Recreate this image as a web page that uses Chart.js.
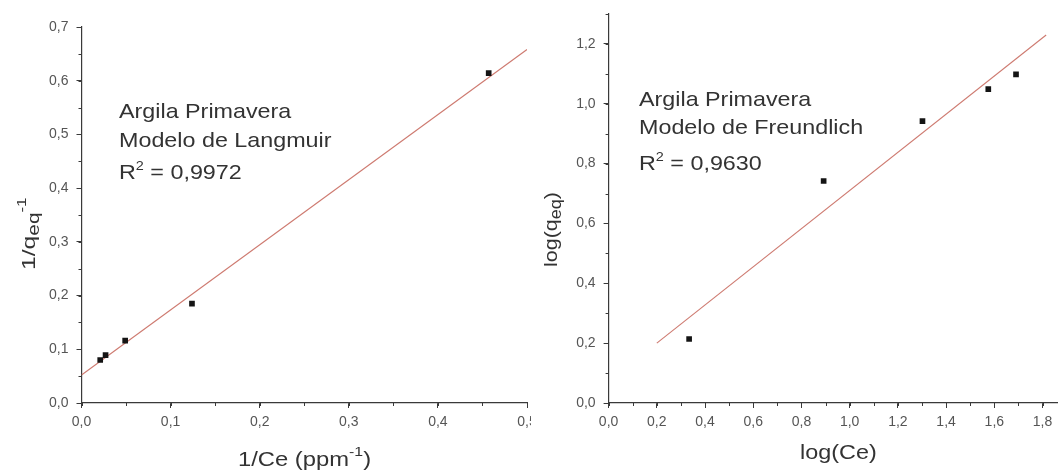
<!DOCTYPE html>
<html>
<head>
<meta charset="utf-8">
<script src="https://cdn.jsdelivr.net/npm/chart.js@4/dist/chart.umd.min.js"></script>
<style>
  html, body { margin: 0; padding: 0; background: #fff; }
  body { width: 1061px; height: 474px; position: relative; overflow: hidden;
         font-family: "Liberation Sans", Arial, sans-serif; color: #333; }
  .box { position: absolute; top: 0; height: 474px; }
  .txt { position: absolute; white-space: nowrap; line-height: 1; transform-origin: 0 0; color: #333; }
  .note { font-size: 21px; transform: scaleX(1.11); }
  .sup { position: relative; font-size: 13px; top: -9px; }
  .sub { position: relative; font-size: 16px; top: 4px; }
  .sup2 { position: relative; font-size: 13px; top: -10px; }
</style>
</head>
<body>
<div class="box" style="left:0;width:531px"><canvas id="langChart"></canvas></div>
<div class="box" style="left:531px;width:530px"><canvas id="freuChart"></canvas></div>

<!-- annotations -->
<div class="txt note" style="left:119px;top:100px">Argila Primavera</div>
<div class="txt note" style="left:119px;top:129px">Modelo de Langmuir</div>
<div class="txt note" style="left:119px;top:161px">R<span class="sup">2</span> = 0,9972</div>

<div class="txt note" style="left:639px;top:88px">Argila Primavera</div>
<div class="txt note" style="left:639px;top:116px">Modelo de Freundlich</div>
<div class="txt note" style="left:639px;top:152px">R<span class="sup">2</span> = 0,9630</div>

<!-- axis titles -->
<div class="txt" style="left:238px;top:450px;font-size:19.5px;transform:scaleX(1.22)">1/Ce (ppm<span class="sup2">-1</span>)</div>
<div class="txt" style="left:800px;top:443px;font-size:19.5px;transform:scaleX(1.2)">log(Ce)</div>
<div class="txt" style="left:19px;top:270px;font-size:19px;transform:rotate(-90deg) scaleX(1.3)">1/q<span class="sub">eq</span><span class="sup">-1</span></div>
<div class="txt" style="left:541px;top:267px;font-size:19px;transform:rotate(-90deg) scaleX(1.13)">log(q<span class="sub">eq</span>)</div>

<script>
// Langmuir (left)
const langX = [0.021, 0.027, 0.049, 0.124, 0.457];
const langY = [0.080, 0.089, 0.116, 0.185, 0.614];
const langFitX = [0, 0.5];
const langFitY = [0.052, 0.658];
const langXTicks = [0, 0.1, 0.2, 0.3, 0.4, 0.5];
const langYTicks = [0, 0.1, 0.2, 0.3, 0.4, 0.5, 0.6, 0.7];

// Freundlich (right)
const freuX = [0.334, 0.892, 1.302, 1.575, 1.690];
const freuY = [0.214, 0.742, 0.942, 1.049, 1.098];
const freuFitX = [0.2, 1.815];
const freuFitY = [0.200, 1.230];
const freuXTicks = [0, 0.2, 0.4, 0.6, 0.8, 1.0, 1.2, 1.4, 1.6, 1.8];
const freuYTicks = [0, 0.2, 0.4, 0.6, 0.8, 1.0, 1.2];

const AXIS = '#3a3a3a';
const FIT = 'rgb(206,122,112)';
const fmt = v => Number(v).toFixed(1).replace('.', ',');
const pts = (xs, ys) => xs.map((x, i) => ({ x, y: ys[i] }));

// small outward minor ticks between the labelled ones
const minorTicks = {
  id: 'minorTicks',
  afterDraw(chart) {
    const ctx = chart.ctx;
    ctx.save();
    ctx.strokeStyle = AXIS;
    ctx.lineWidth = 1;
    Object.values(chart.scales).forEach(s => {
      const step = s.options.minorStep;
      if (!step) return;
      for (let v = s.min; v <= s.max + 1e-9; v += step) {
        const p = Math.round(s.getPixelForValue(v)) + 0.5;
        ctx.beginPath();
        if (s.axis === 'x') { ctx.moveTo(p, s.top); ctx.lineTo(p, s.top + 3); }
        else { ctx.moveTo(s.right, p); ctx.lineTo(s.right - 3, p); }
        ctx.stroke();
      }
    });
    ctx.restore();
  }
};

function axis(min, max, ticks, minorStep, isX, size) {
  return {
    type: 'linear', min, max, minorStep,
    afterBuildTicks: s => { s.ticks = ticks.map(v => ({ value: v })); },
    afterFit: s => {
      if (isX) s.height = size; else s.width = size;
      s.paddingLeft = s.paddingRight = s.paddingTop = s.paddingBottom = 0;
    },
    grid: { drawOnChartArea: false, tickLength: 5, tickColor: AXIS, tickWidth: 1 },
    border: { display: true, color: AXIS, width: 1.2 },
    ticks: {
      color: '#555', padding: isX ? 6 : 8,
      font: { family: '"Liberation Sans", Arial, sans-serif', size: 14 },
      callback: v => fmt(v)
    }
  };
}

function makeChart(id, xs, ys, fx, fy, xAxis, yAxis, pad) {
  return new Chart(document.getElementById(id), {
    type: 'scatter',
    data: {
      datasets: [
        { data: pts(xs, ys), pointStyle: 'rect', pointRadius: 4, pointBackgroundColor: '#141414', pointBorderWidth: 0 },
        { data: pts(fx, fy), showLine: true, borderColor: FIT, borderWidth: 1.1, pointRadius: 0 }
      ]
    },
    options: {
      responsive: true, maintainAspectRatio: false, animation: false,
      layout: { padding: pad },
      plugins: { legend: { display: false }, tooltip: { enabled: false } },
      scales: { x: xAxis, y: yAxis }
    },
    plugins: [minorTicks]
  });
}

makeChart('langChart', langX, langY, langFitX, langFitY,
  axis(0, 0.5, langXTicks, 0.05, true, 71),
  axis(0, 0.7, langYTicks, 0.05, false, 81.5),
  { left: 0, top: 27, right: 3, bottom: 0 });

makeChart('freuChart', freuX, freuY, freuFitX, freuFitY,
  axis(0, 1.86, freuXTicks, 0.1, true, 71),
  axis(0, 1.3, freuYTicks, 0.1, false, 77.6),
  { left: 0, top: 14, right: 0, bottom: 0 });
</script>
</body>
</html>
